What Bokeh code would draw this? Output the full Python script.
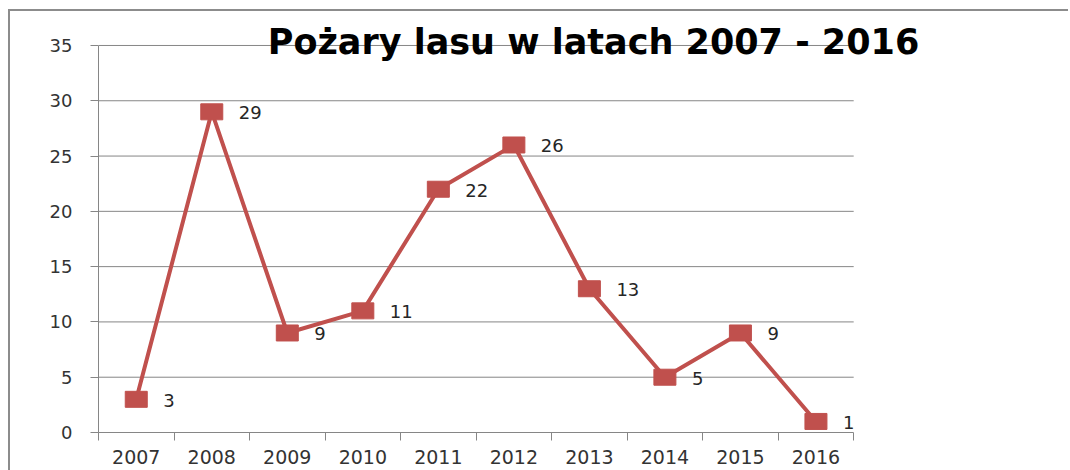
from bokeh.plotting import figure
from bokeh.models import Range1d, FixedTicker, Label, ColumnDataSource
from bokeh.core.properties import value
from bokeh.embed import file_html
from bokeh.resources import INLINE

years = ["2007", "2008", "2009", "2010", "2011", "2012", "2013", "2014", "2015", "2016"]
fires = [3, 29, 9, 11, 22, 26, 13, 5, 9, 1]
y_ticks = [0, 5, 10, 15, 20, 25, 30, 35]
title_text = "Pożary lasu w latach 2007 - 2016"

RED = "#C0504D"
GRID = "#868686"
FONT = "DejaVu Sans"

n = len(years)
xpos = [i + 0.5 for i in range(n)]
src = ColumnDataSource(dict(x=xpos, y=fires, lbl=[str(v) for v in fires]))
grid_src = ColumnDataSource(dict(x0=[0] * (len(y_ticks) - 1), x1=[n] * (len(y_ticks) - 1),
                                 y=y_ticks[1:]))

# the frame is extended up and right (free room for the title); axes are bounded to the data area
p = figure(frame_width=944, frame_height=415, output_backend="svg", toolbar_location=None,
           x_range=Range1d(0, 12.5), y_range=Range1d(y_ticks[0], 37.53),
           min_border_left=88, min_border_right=26, min_border_top=6, min_border_bottom=38)
p.styles = {"margin-left": "8px", "margin-top": "9px",
            "border-top": "2px solid #8c8c8c", "border-left": "2px solid #8c8c8c"}
p.outline_line_color = None
p.background_fill_color = "white"
p.border_fill_color = "white"

# y axis
p.yaxis.bounds = (y_ticks[0], y_ticks[-1])
p.yaxis.ticker = FixedTicker(ticks=y_ticks)
p.yaxis.axis_line_color = GRID
p.yaxis.major_tick_line_color = GRID
p.yaxis.major_tick_out = 8
p.yaxis.major_tick_in = 0
p.yaxis.minor_tick_line_color = None
p.yaxis.major_label_standoff = 18
p.yaxis.major_label_text_font = FONT
p.yaxis.major_label_text_font_size = "18px"
p.yaxis.major_label_text_color = "#333333"

# x axis: labels at category centres, ticks at category boundaries
p.xaxis.bounds = (0, n)
p.xaxis.ticker = FixedTicker(ticks=xpos, minor_ticks=list(range(n + 1)))
p.xaxis.major_label_overrides = {x: y for x, y in zip(xpos, years)}
p.xaxis.axis_line_color = GRID
p.xaxis.major_tick_line_color = None
p.xaxis.major_tick_out = 0
p.xaxis.major_tick_in = 0
p.xaxis.minor_tick_line_color = GRID
p.xaxis.minor_tick_out = 8
p.xaxis.minor_tick_in = 0
p.xaxis.major_label_standoff = 9
p.xaxis.major_label_text_font = FONT
p.xaxis.major_label_text_font_size = "19px"
p.xaxis.major_label_text_color = "#333333"

# horizontal gridlines limited to the category span
p.xgrid.grid_line_color = None
p.ygrid.grid_line_color = None
p.segment(x0="x0", x1="x1", y0="y", y1="y", source=grid_src, line_color=GRID, line_width=1,
          level="underlay")

p.line("x", "y", source=src, line_color=RED, line_width=4)
p.rect("x", "y", width=22, height=16, width_units="screen", height_units="screen",
       source=src, fill_color=RED, line_color=RED)
p.text("x", "y", text="lbl", source=src, x_offset=27, y_offset=1, text_align="left",
       text_baseline="middle", text_font=value(FONT), text_font_size="18px",
       text_color="#262626")

title = Label(x=495, y=391, x_units="screen", y_units="screen", text=title_text,
              text_align="center", text_baseline="middle", level="overlay",
              text_font=FONT, text_font_size="35px", text_font_style="bold",
              text_color="#000000")
p.add_layout(title)

open("out.html", "w").write(file_html(p, INLINE))
